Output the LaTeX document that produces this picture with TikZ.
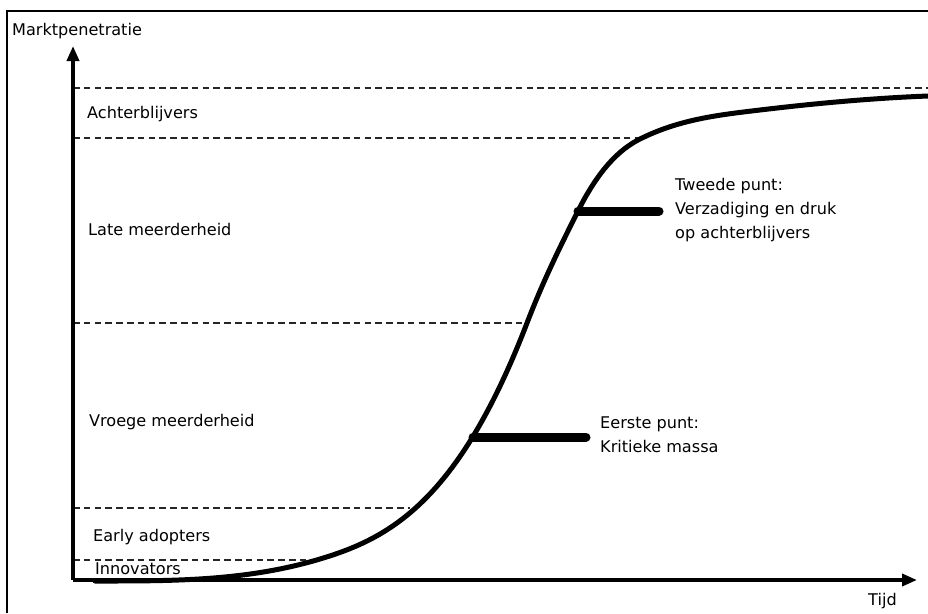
\documentclass[tikz,border=0pt]{standalone}
\usepackage{fontspec}
\setmainfont{DejaVu Sans}
\usetikzlibrary{arrows.meta}
\begin{document}
\begin{tikzpicture}[x=1pt,y=-1pt,
  axis/.style={line width=3.6pt,line join=round,-{Triangle[length=15pt,width=12pt]}},
  level/.style={line width=1.3pt,dash pattern=on 6.5pt off 4.3pt,black!85},
  scurve/.style={line width=5pt,line cap=round},
  marker/.style={line width=9pt,line cap=round},
  lbl/.style={anchor=base west,inner sep=0pt,font=\fontsize{16.1}{24}\selectfont},
  note/.style={anchor=north west,inner sep=0pt,align=left,font=\fontsize{16.1}{24}\selectfont}]
\useasboundingbox (0,0) rectangle (928,613);
\fill[white] (0,0) rectangle (928,613);
% outer frame
\draw[line width=2pt] (7,613) -- (7,11) -- (928,11);

% axes
\coordinate (O) at (73,580);
\coordinate (ytop) at (73,46);
\coordinate (xend) at (917,580);

% segment boundaries
\draw[level] (73,88) -- (928,88);
\draw[level] (73,138) -- (640,138);
\draw[level] (73,323) -- (527,323);
\draw[level] (73,508) -- (410,508);
\draw[level] (73,560) -- (320,560);

\draw[axis] (O) -- (ytop);
\draw[axis] (O) -- (xend);

% adoption curve, built from cubic pieces through its knots
\coordinate (k0) at (95,581);
\coordinate (k1) at (320,559);
\coordinate (k4) at (527,323);
\coordinate (k5) at (578,211);
\coordinate (k6) at (640,139);
\coordinate (k7) at (760,110);
\coordinate (k8) at (928,96);
\draw[scurve] (k0)
  .. controls (170,581) and (245,581.5) .. (k1)
  .. controls (389,538.3) and (458,502.4) .. (k4)
  .. controls (544,278.8) and (561,245) .. (k5)
  .. controls (598.7,169.7) and (619.3,149.3) .. (k6)
  .. controls (680,119) and (720,114.8) .. (k7)
  .. controls (816,103.3) and (872,98.2) .. (k8);

% tipping points
\coordinate (p1) at (473,437);
\coordinate (e1) at (586,437);
\coordinate (e2) at (659,211);
\draw[marker] (p1) -- (e1);
\draw[marker] (k5) -- (e2);

% labels
\node[lbl] (ylab) at (12,35) {Marktpenetratie};
\node[lbl] (xlab) at (868,605) {Tijd};
\node[lbl] (s5) at (87,118) {Achterblijvers};
\node[lbl] (s4) at (88,235) {Late meerderheid};
\node[lbl] (s3) at (89,426) {Vroege meerderheid};
\node[lbl] (s2) at (93,541) {Early adopters};
\node[lbl] (s1) at (95,574) {Innovators};
\node[note] (n2) at (675,178.5) {Tweede punt:\\Verzadiging en druk\\op achterblijvers};
\node[note] (n1) at (600,416.5) {Eerste punt:\\Kritieke massa};
\end{tikzpicture}
\end{document}
